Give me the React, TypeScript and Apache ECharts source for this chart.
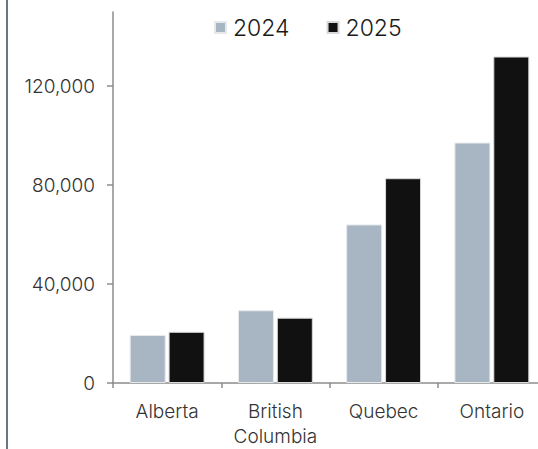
import React, { useEffect, useRef } from "react";
import * as echarts from "echarts";

const categories = ["Alberta", "British\nColumbia", "Quebec", "Ontario"];
const values2024 = [19400, 29400, 64100, 97200];
const values2025 = [20700, 26400, 82800, 132000];
const yTicks = [0, 40000, 80000, 120000];

const FONT = "Inter";

export default function App() {
  const ref = useRef<HTMLDivElement>(null);
  useEffect(() => {
    if (!ref.current) return;
    const chart = echarts.init(ref.current, null, { renderer: "svg" });
    chart.setOption({
      animation: false,
      backgroundColor: "#ffffff",
      legend: {
        top: 16,
        left: 214,
        padding: 0,
        itemWidth: 11,
        itemHeight: 11,
        itemGap: 37,
        icon: "rect",
        textStyle: { fontFamily: FONT, fontSize: 23, fontWeight: 300, color: "#1a1a1a", padding: [0, 0, 0, 2] },
        data: ["2024", "2025"],
      },
      grid: { left: 113, right: 0, top: 12, bottom: 62, containLabel: false },
      xAxis: {
        type: "category",
        data: categories,
        axisLine: { lineStyle: { color: "#8c8c8c", width: 1.5 } },
        axisTick: { show: true, length: 5, lineStyle: { color: "#8c8c8c", width: 1.5 } },
        axisLabel: {
          fontFamily: FONT,
          fontSize: 19,
          fontWeight: 300,
          color: "#333",
          margin: 16,
          lineHeight: 25,
          interval: 0,
        },
      },
      yAxis: {
        type: "value",
        min: 0,
        max: 150000,
        axisLine: { show: true, lineStyle: { color: "#8c8c8c", width: 1.5 } },
        axisTick: { show: true, length: 6, lineStyle: { color: "#8c8c8c", width: 1.5 }, customValues: yTicks },
        splitLine: { show: false },
        axisLabel: {
          fontFamily: FONT,
          fontSize: 19,
          fontWeight: 300,
          color: "#333",
          margin: 18,
          customValues: yTicks,
          formatter: (v: number) => v.toLocaleString("en-US"),
        },
      },
      series: [
        {
          name: "2024",
          type: "bar",
          data: values2024,
          barWidth: 36,
          barGap: "8%",
          itemStyle: { color: "#a8b5c2", borderColor: "#e6e9ec", borderWidth: 1 },
        },
        {
          name: "2025",
          type: "bar",
          data: values2025,
          barWidth: 36,
          barGap: "8%",
          itemStyle: { color: "#111111", borderColor: "#d9d9d9", borderWidth: 1 },
        },
      ],
      graphic: [
        {
          type: "line",
          shape: { x1: 7, y1: 0, x2: 7, y2: 449 },
          style: { stroke: "#3d4955", lineWidth: 1.5 },
        },
      ],
    });
    return () => chart.dispose();
  }, []);
  return (
    <div style={{ position: "fixed", left: 0, top: 0, width: 538, height: 449, overflow: "hidden" }}>
      <div ref={ref} style={{ position: "absolute", left: 0, top: 0, width: 546, height: 449 }} />
    </div>
  );
}
